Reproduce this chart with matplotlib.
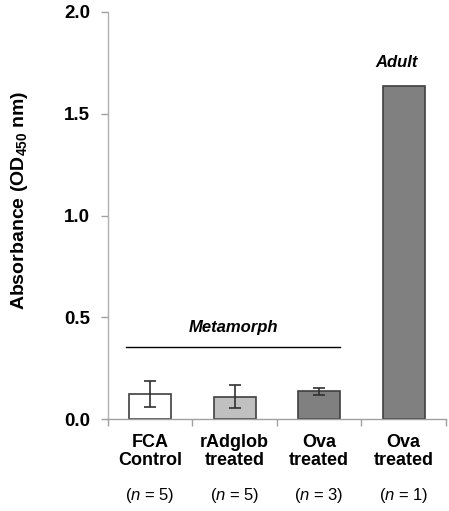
import matplotlib
matplotlib.use("Agg")
import matplotlib.pyplot as plt
import matplotlib.transforms as mtransforms

# data
groups = ['FCA\nControl', 'rAdglob\ntreated', 'Ova\ntreated', 'Ova\ntreated']
n_labels = ['5', '5', '3', '1']
absorbance = [0.124, 0.111, 0.137, 1.634]
errors = [0.063, 0.056, 0.018, 0.0]
colors = ['#ffffff', '#c0c0c0', '#808080', '#808080']

plt.rcParams['font.family'] = ['Liberation Sans', 'DejaVu Sans']
plt.rcParams['mathtext.fontset'] = 'custom'
plt.rcParams['mathtext.rm'] = 'Liberation Sans'
plt.rcParams['mathtext.it'] = 'Liberation Sans:italic'
plt.rcParams['mathtext.bf'] = 'Liberation Sans:bold'

fig = plt.figure(figsize=(4.49, 5.11), dpi=100)
ax = fig.add_axes([0.2405, 0.1794, 0.7528, 0.7977])

x = list(range(len(groups)))
ax.bar(x, absorbance, width=0.5, color=colors, edgecolor='#404040', linewidth=1.2, zorder=2)
for xi, v, e in zip(x, absorbance, errors):
    if e > 0:
        ax.errorbar(xi, v, yerr=e, fmt='none', ecolor='#303030', elinewidth=1.2,
                    capsize=4, capthick=1.2, zorder=3)

ax.set_xlim(-0.5, 3.5)
ax.set_ylim(0, 2.0)
ax.set_yticks([0.0, 0.5, 1.0, 1.5, 2.0])
ax.set_yticklabels(['0.0', '0.5', '1.0', '1.5', '2.0'], fontsize=13.5, fontweight='bold')
ax.set_xticks([-0.5, 0.5, 1.5, 2.5, 3.5])
ax.set_xticklabels([])
ax.tick_params(axis='y', direction='out', length=5, color='#a0a0a0', width=1, pad=8)
ax.tick_params(axis='x', direction='out', length=5, color='#a0a0a0', width=1)

for s in ['top', 'right']:
    ax.spines[s].set_visible(False)
ax.spines['left'].set_color('#b0b0b0')
ax.spines['bottom'].set_color('#a0a0a0')
ax.spines['left'].set_linewidth(1)
ax.spines['bottom'].set_linewidth(1)

ax.set_ylabel('Absorbance (OD$_\\mathbf{450}$ nm)', fontsize=14, fontweight='bold')
ax.yaxis.set_label_coords(-0.23, 0.538)

# group annotations
ax.plot([-0.29, 2.245], [0.353, 0.353], color='black', linewidth=1)
ax.text(0.98, 0.45, 'Metamorph', ha='center', va='center', fontsize=12,
        fontweight='bold', style='italic')
ax.text(2.91, 1.75, 'Adult', ha='center', va='center', fontsize=12,
        fontweight='bold', style='italic')

trans = mtransforms.blended_transform_factory(ax.transData, ax.transAxes)
for xi, g, n in zip(x, groups, n_labels):
    ax.text(xi, -0.036, g, transform=trans, ha='center', va='top', fontsize=13,
            fontweight='bold', linespacing=1.05)
    ax.text(xi, -0.186, '($\\mathit{n}$ = $\\mathit{' + n + '}$)', transform=trans,
            ha='center', va='center', fontsize=12)

fig.savefig('out.png', dpi=100)
